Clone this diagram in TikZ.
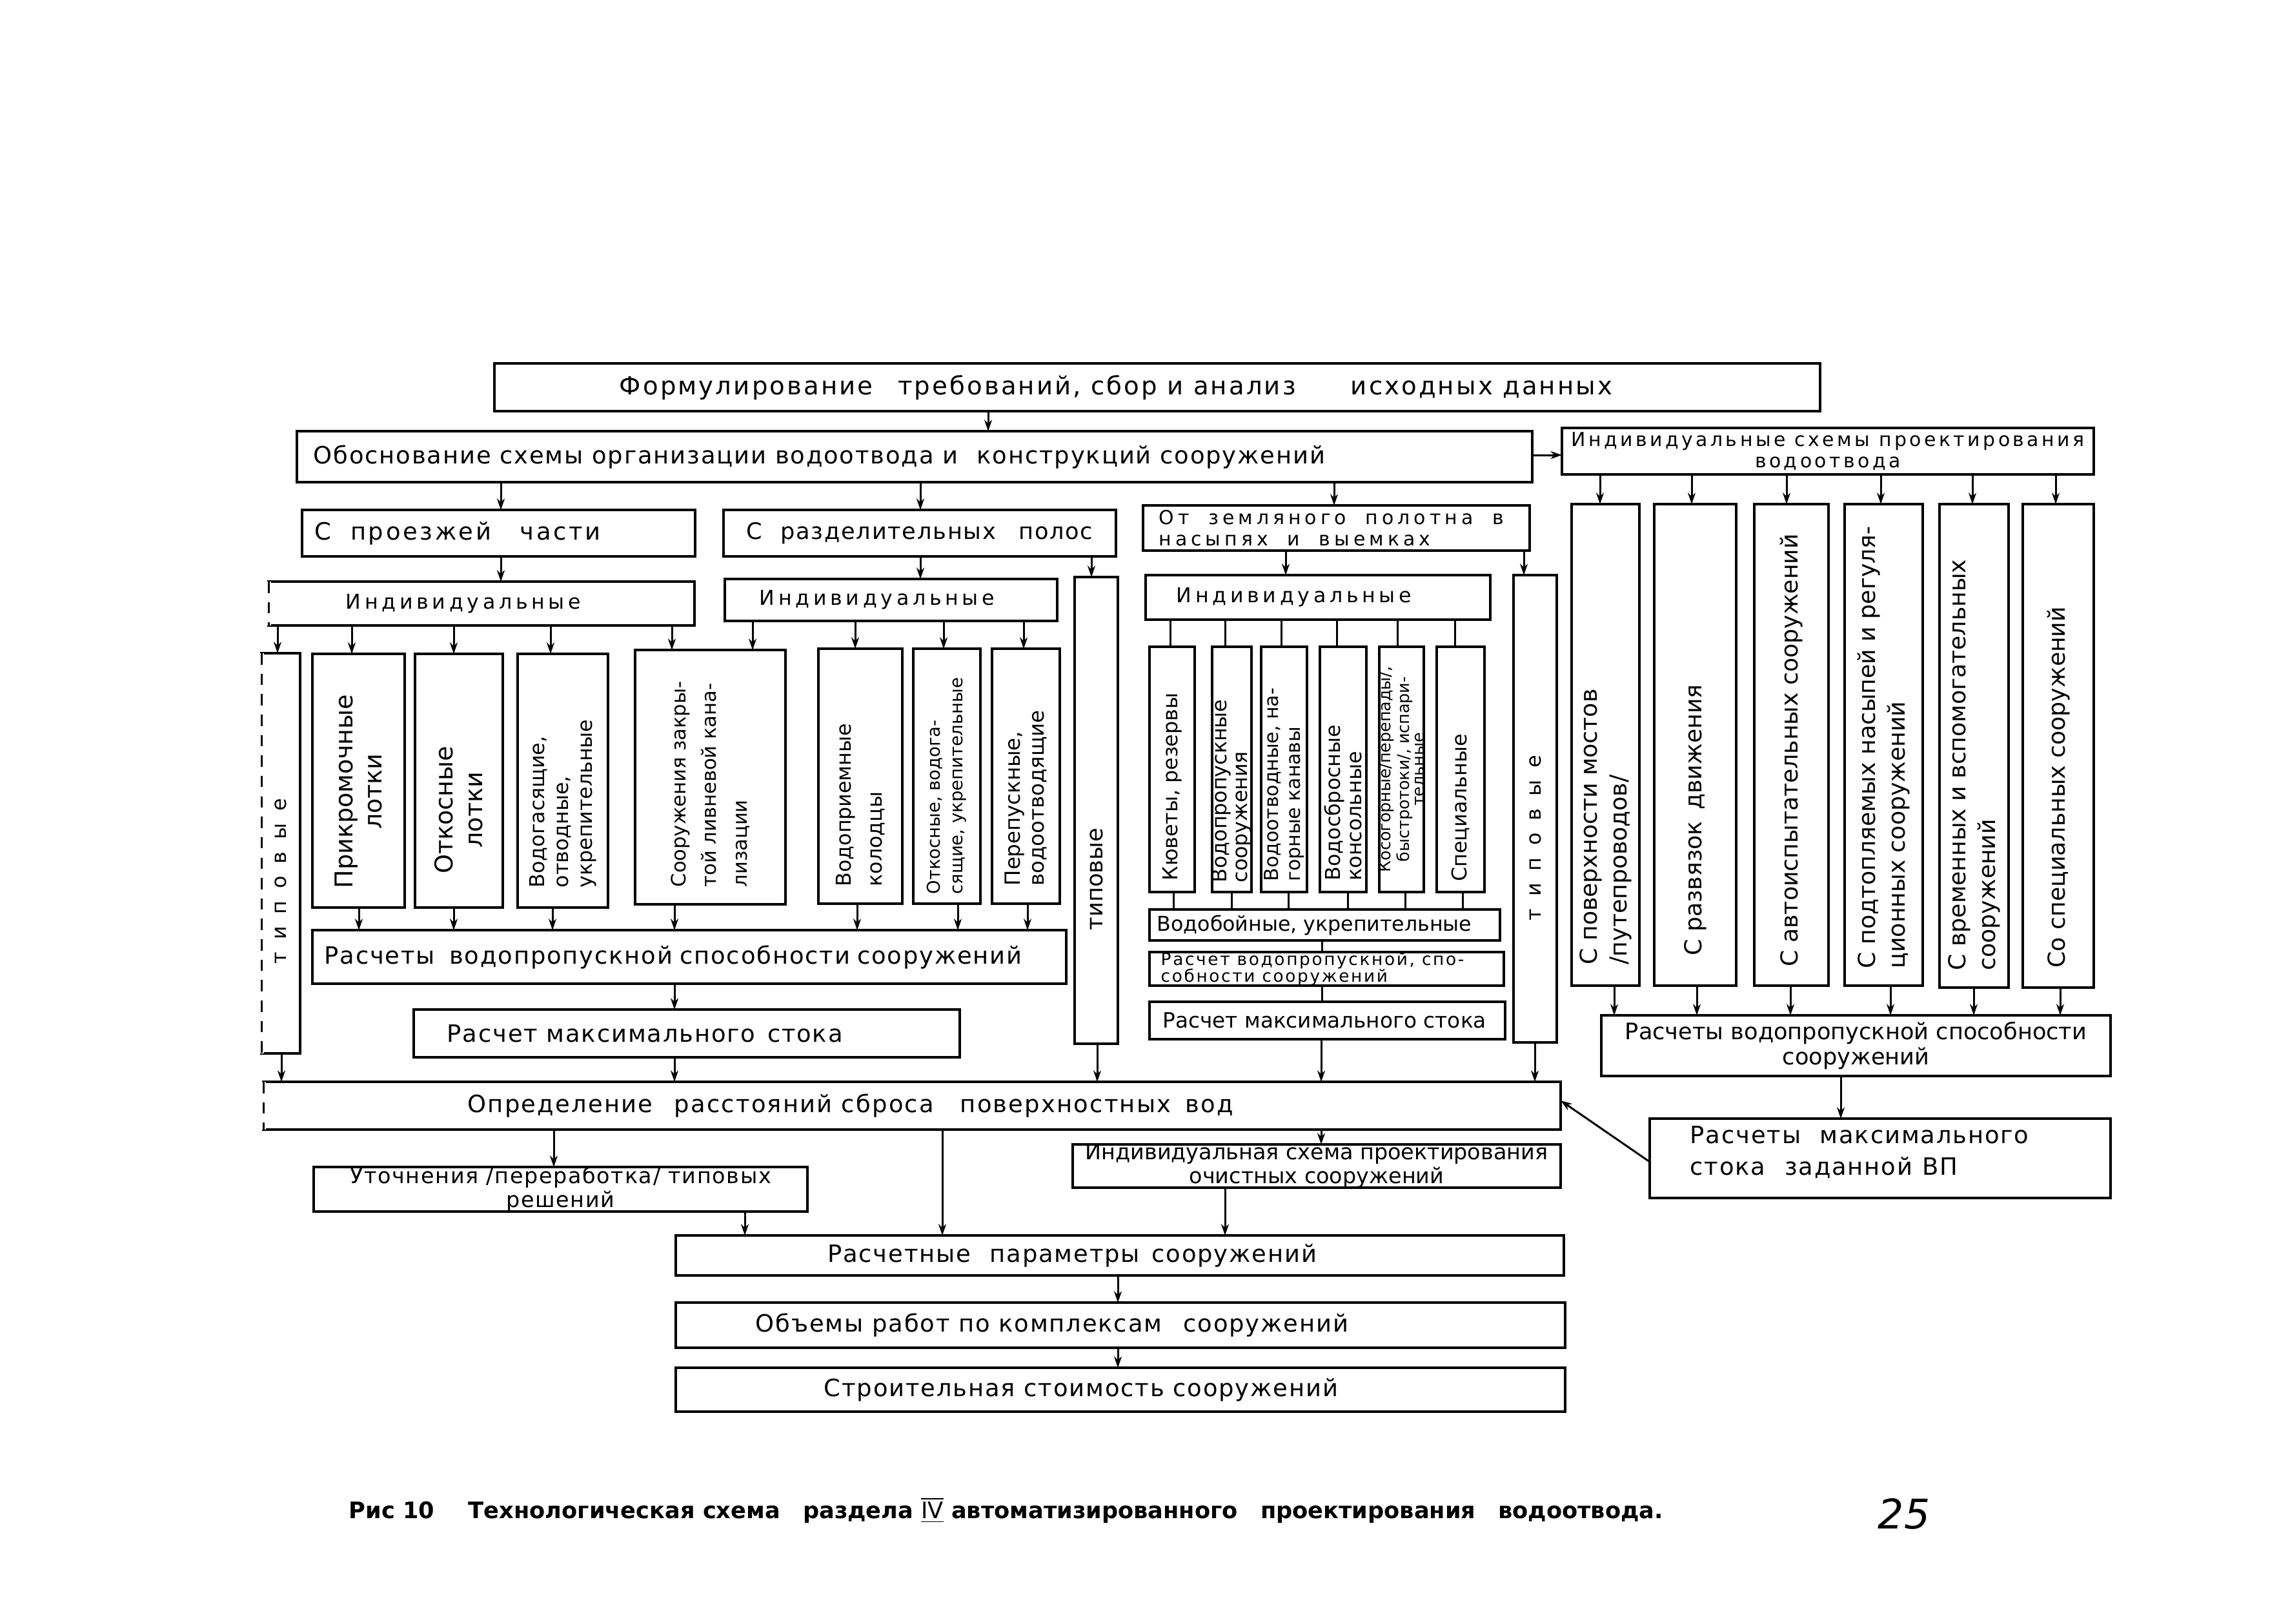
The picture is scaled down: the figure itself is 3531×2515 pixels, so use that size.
\documentclass[tikz,border=0pt]{standalone}
\usepackage{fontspec}
\setmainfont{DejaVu Sans}
\usetikzlibrary{fit,arrows.meta}
\newcommand\fs[2]{\fontsize{#1}{#2}\selectfont}
\newcommand\LS[1]{\addfontfeature{LetterSpace=#1}}
\newcommand\bx[6][]{\node[box,fit={(#3,#4) (#5,#6)},#1] (#2) {};}
\newcommand\vcon[4][arr]{\draw[#1] (#2.south -| #4,0) -- (#3.north -| #4,0);}
\begin{document}
\begin{tikzpicture}[x=0.01cm,y=-0.01cm,
 box/.style={draw, line width=1.15pt, inner sep=0pt, outer sep=0pt},
 conn/.style={line width=0.85pt},
 arr/.style={conn,-{Stealth[length=5pt,width=3.4pt]}},
 tx/.style={font={\fs{10.5}{12}\LS{5}}, inner sep=0pt},
 vt/.style={tx, rotate=90},
 spaced/.style={font={\fs{9}{10}\LS{18}}},
 vspaced/.style={font={\fs{9}{10}\LS{60}}}]
\fill[white] (0,0) rectangle (3531,2515);
\useasboundingbox (0,0) rectangle (3531,2515);

% ---------- top rows
\bx{top}{766}{563}{2820}{637}
\node[tx,font={\fs{11}{12}\LS{8}}] (topT) at (top -| 1729,0) {Формулирование\hspace{1em}требований, сбор и анализ\hspace{2.2em}исходных данных};
\bx{obos}{460}{668}{2374}{747}
\node[tx,anchor=west] (obosT) at (obos.west -| 485,0) {Обоснование схемы организации водоотвода и\hspace{.8em}конструкций сооружений};
\bx{ind}{2420}{663}{3244}{735}
\node[tx,align=center,font={\fs{8.5}{9.5}\LS{15}}] (indT) at (ind) {Индивидуальные схемы проектирования\\водоотвода};

\bx{pr}{468}{790}{1077}{862}
\node[tx,anchor=west,font={\fs{10.5}{12}\LS{10}}] (prT) at (pr.west -| 487,0) {С\hspace{.8em}проезжей\hspace{1.2em}части};
\bx{rp}{1121}{790}{1729}{862}
\node[tx,font={\fs{10}{12}\LS{5}}] (rpT) at (rp) {С\hspace{.8em}разделительных\hspace{1em}полос};
\bx{zp}{1771}{783}{2370}{853}
\node[tx,anchor=west,align=left,font={\fs{8.5}{9.5}\LS{20}}] (zpT) at (zp.west -| 1795,0) {От\hspace{1em}земляного\hspace{1em}полотна\hspace{1em}в\\насыпях\hspace{1em}и\hspace{1em}выемках};

% ---------- individual / typical
\bx{A1}{416}{901}{1076}{969}
\node[tx,spaced] (A1T) at (A1 -| 718,0) {Индивидуальные};
\bx{A2}{1123}{897}{1638}{962}
\node[tx,spaced] (A2T) at (A2 -| 1359,0) {Индивидуальные};
\bx{A3}{1775}{891}{2309}{960}
\node[tx,spaced] (A3T) at (A3 -| 2005,0) {Индивидуальные};

\bx{T1}{405}{1012}{465}{1632}
\node[vt,vspaced] (T1T) at (T1 |- 0,1365) {типовые};
\bx{T2}{1665}{894}{1732}{1617}
\node[vt,font=\fs{10}{12}] (T2T) at (T2 |- 0,1362) {типовые};
\bx{T3}{2345}{891}{2412}{1615}
\node[vt,vspaced] (T3T) at (T3 |- 0,1298) {типовые};

% ---------- children of first two columns
\bx{C11}{484}{1013}{627}{1406}
\node[vt,anchor=west,align=center,font=\fs{10.8}{13}] (C11T) at ([yshift=.29cm]C11.south) {Прикромочные\\лотки};
\bx{C12}{643}{1013}{779}{1406}
\node[vt,anchor=west,align=center,font=\fs{10.8}{13}] (C12T) at ([yshift=.52cm]C12.south) {Откосные\\лотки};
\bx{C13}{802}{1013}{942}{1406}
\node[vt,anchor=west,align=left,font=\fs{9}{10.5}] (C13T) at ([yshift=.3cm]C13.south) {Водогасящие,\\отводные,\\укрепительные};
\bx{C14}{984}{1007}{1217}{1401}
\node[vt,anchor=west,align=left,font=\fs{8.7}{13.5}] (C14T) at ([yshift=.26cm]C14.south) {Сооружения закры-\\той ливневой кана-\\лизации};
\bx{C21}{1268}{1005}{1398}{1400}
\node[vt,anchor=west,align=left,font=\fs{9}{13.5}] (C21T) at ([yshift=.26cm]C21.south) {Водоприемные\\колодцы};
\bx{C22}{1415}{1005}{1519}{1400}
\node[vt,anchor=west,align=left,font=\fs{7.8}{10}] (C22T) at ([yshift=.14cm]C22.south) {Откосные, водога-\\сящие, укрепительные};
\bx{C23}{1537}{1005}{1642}{1400}
\node[vt,anchor=west,align=left,font=\fs{9.2}{10.5}] (C23T) at ([yshift=.27cm]C23.south) {Перепускные,\\водоотводящие};

\bx{R1}{484}{1441}{1652}{1524}
\node[tx] (R1T) at (R1 -| 1043,0) {Расчеты\hspace{.6em}водопропускной\hspace{.3em}способности\hspace{.3em}сооружений};
\bx{M1}{641}{1564}{1487}{1638}
\node[tx,anchor=west] (M1T) at (M1.west -| 692,0) {Расчет максимального\hspace{.5em}стока};

% ---------- third column
\bx{C31}{1781}{1002}{1851}{1382}
\node[vt,anchor=west,font=\fs{9}{10}] (C31T) at ([yshift=.17cm]C31.south) {Кюветы, резервы};
\bx{C32}{1878}{1002}{1939}{1382}
\node[vt,anchor=west,align=left,font=\fs{9}{9}] (C32T) at ([yshift=.14cm]C32.south) {Водопропускные\\сооружения};
\bx{C33}{1954}{1002}{2025}{1382}
\node[vt,anchor=west,align=left,font=\fs{8.5}{9.5}] (C33T) at ([yshift=.16cm]C33.south) {Водоотводные, на-\\горные канавы};
\bx{C34}{2045}{1002}{2117}{1382}
\node[vt,anchor=west,align=left,font=\fs{9}{9.5}] (C34T) at ([yshift=.17cm]C34.south) {Водосбросные\\консольные};
\bx{C35}{2137}{1002}{2206}{1382}
\node[vt,align=center,font=\fs{7.2}{6.6}] (C35T) at (C35) {Косогорные/перепады/,\\быстротоки/, испари-\\тельные};
\bx{C36}{2226}{1002}{2300}{1382}
\node[vt,anchor=west,font=\fs{9}{10}] (C36T) at ([yshift=.16cm]C36.south) {Специальные};

\bx{W}{1781}{1409}{2324}{1457}
\node[tx,anchor=west,font=\fs{9}{10}] (WT) at (W.west -| 1792,0) {Водобойные, укрепительные};
\bx{R3}{1781}{1475}{2330}{1527}
\node[tx,anchor=west,align=left,font={\fs{7.5}{7.5}\LS{10}}] (R3T) at (R3.west -| 1798,0) {Расчет водопропускной, спо-\\собности сооружений};
\bx{M3}{1781}{1552}{2332}{1610}
\node[tx,anchor=west,font=\fs{9.3}{10}] (M3T) at (M3.west -| 1801,0) {Расчет максимального стока};

% ---------- right column
\bx{B1}{2435}{781}{2540}{1527}
\node[vt,anchor=west,align=left,font=\fs{10.3}{13}] (B1T) at ([yshift=.32cm]B1.south) {С поверхности мостов\\/путепроводов/};
\bx{B2}{2563}{781}{2690}{1527}
\node[vt,anchor=west,align=left,font=\fs{10.3}{13}] (B2T) at ([yshift=.46cm]B2.south) {С развязок\hspace{.5em}движения};
\bx{B3}{2718}{781}{2833}{1527}
\node[vt,anchor=west,align=left,font=\fs{10.3}{13}] (B3T) at ([yshift=.29cm]B3.south) {С автоиспытательных сооружений};
\bx{B4}{2858}{781}{2979}{1527}
\node[vt,anchor=west,align=left,font=\fs{10.3}{13}] (B4T) at ([yshift=.26cm]B4.south) {С подтопляемых насыпей и регуля-\\ционных сооружений};
\bx{B5}{3005}{781}{3112}{1530}
\node[vt,anchor=west,align=left,font=\fs{10.3}{13}] (B5T) at ([yshift=.26cm]B5.south) {С временных и вспомогательных\\сооружений};
\bx{B6}{3134}{781}{3244}{1530}
\node[vt,anchor=west,align=left,font=\fs{10.3}{13}] (B6T) at ([yshift=.3cm]B6.south) {Со специальных сооружений};

\bx{R4}{2481}{1573}{3270}{1667}
\node[tx,align=center,font=\fs{10}{11}] (R4T) at (R4) {Расчеты водопропускной способности\\сооружений};
\bx{M4}{2556}{1733}{3270}{1856}
\node[tx,anchor=west,align=left,font={\fs{10.5}{14}\LS{5}}] (M4T) at (2618,1785) {Расчеты\hspace{.8em}максимального\\стока\hspace{.8em}заданной\hspace{.4em}ВП};

% ---------- lower part
\bx{D}{408}{1676}{2418}{1750}
\node[tx,anchor=west,font={\fs{10.5}{12}\LS{6}}] (DT) at (D.west -| 724,0) {Определение\hspace{.9em}расстояний сброса\hspace{1.1em}поверхностных\hspace{.6em}вод};
\bx{U}{486}{1808}{1251}{1877}
\node[tx,align=center,font={\fs{9.5}{10.5}\LS{5}}] (UT) at (U) {Уточнения /переработка/ типовых\\решений};
\bx{I}{1662}{1773}{2418}{1840}
\node[tx,align=center,font=\fs{9.5}{10.5}] (IT) at (I) {Индивидуальная схема проектирования\\очистных сооружений};
\bx{P}{1047}{1914}{2423}{1976}
\node[tx] (PT) at (P -| 1661,0) {Расчетные\hspace{.8em}параметры\hspace{.5em}сооружений};
\bx{O}{1047}{2018}{2425}{2088}
\node[tx] (OT) at (O -| 1630,0) {Объемы работ по комплексам\hspace{.9em}сооружений};
\bx{S}{1047}{2119}{2425}{2187}
\node[tx] (ST) at (S -| 1675,0) {Строительная стоимость сооружений};

% dashed left edges
\foreach \nm in {A1,T1,D} {
  \draw[white,line width=2.5pt] (\nm.north west) -- (\nm.south west);
  \draw[conn,dash pattern=on 5pt off 4pt] (\nm.north west) -- (\nm.south west);
}

% ---------- connectors
\vcon{top}{obos}{1531}
\draw[arr] (obos.east |- 0,705) -- (ind.west |- 0,705);
\vcon{obos}{pr}{776}
\vcon{obos}{rp}{1426}
\vcon{obos}{zp}{2067}
\foreach \x/\nm in {2479/B1,2621/B2,2768/B3,2914/B4,3056/B5,3185/B6} {\vcon{ind}{\nm}{\x}}
\vcon{pr}{A1}{776}
\vcon{rp}{A2}{1426}
\vcon{rp}{T2}{1691}
\vcon{zp}{A3}{1992}
\vcon{zp}{T3}{2361}
\vcon{A1}{T1}{430}
\foreach \x/\nm in {545/C11,703/C12,853/C13,1041/C14} {\vcon{A1}{\nm}{\x}}
\foreach \x/\nm in {1166/C14,1325/C21,1462/C22,1586/C23} {\vcon{A2}{\nm}{\x}}
\foreach \x/\nm in {1813/C31,1898/C32,1985/C33,2071/C34,2165/C35,2254/C36} {\vcon[conn]{A3}{\nm}{\x}}
\foreach \x/\nm in {556/C11,703/C12,856/C13,1045/C14,1328/C21,1484/C22,1592/C23} {\vcon{\nm}{R1}{\x}}
\vcon{R1}{M1}{1045}
\vcon{M1}{D}{1045}
\vcon{T1}{D}{436}
\vcon{T2}{D}{1700}
\foreach \x/\nm in {1818/C31,1908/C32,1996/C33,2088/C34,2177/C35,2266/C36} {\vcon[conn]{\nm}{W}{\x}}
\vcon[conn]{W}{R3}{2048}
\vcon[conn]{R3}{M3}{2048}
\vcon{M3}{D}{2047}
\vcon{T3}{D}{2378}
\foreach \x/\nm in {2501/B1,2629/B2,2774/B3,2929/B4,3058/B5,3192/B6} {\vcon{\nm}{R4}{\x}}
\vcon{R4}{M4}{2852}
\draw[arr] (M4.west |- 0,1800) -- (D.east |- 0,1705);
\vcon{D}{U}{858}
\vcon{D}{P}{1460}
\vcon{D}{I}{2047}
\vcon{U}{P}{1154}
\vcon{I}{P}{1898}
\vcon{P}{O}{1732}
\vcon{O}{S}{1732}

% ---------- caption
\node[tx,anchor=west,font={\bfseries\fs{10}{12}}] (cap) at (540,2340) {Рис 10\hspace{1.5em}Технологическая схема\hspace{1em}раздела $\overline{\underline{\mathrm{IV}}}$ автоматизированного\hspace{1em}проектирования\hspace{1em}водоотвода.};
\node[tx,font={\itshape\fs{18}{18}}] (pg) at (2950,2345) {25};
\end{tikzpicture}
\end{document}
